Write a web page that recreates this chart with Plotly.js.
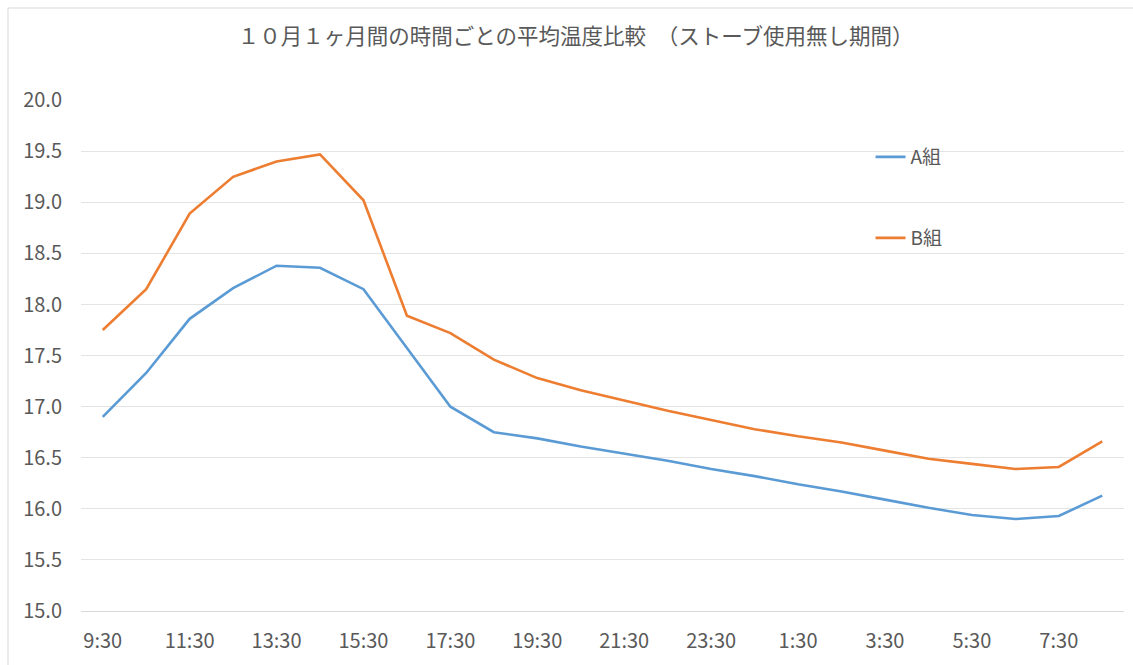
<!DOCTYPE html>
<html>
<head>
<meta charset="utf-8">
<script src="https://cdn.plot.ly/plotly-3.0.1.min.js"></script>
<style>
html,body{margin:0;padding:0;background:#fff;}
#chart{width:1133px;height:665px;}
</style>
</head>
<body>
<div id="chart"></div>
<script>
const times = ["9:30","10:30","11:30","12:30","13:30","14:30","15:30","16:30","17:30","18:30","19:30","20:30",
               "21:30","22:30","23:30","0:30","1:30","2:30","3:30","4:30","5:30","6:30","7:30","8:30"];
const tickLabels = ["9:30","11:30","13:30","15:30","17:30","19:30","21:30","23:30","1:30","3:30","5:30","7:30"];
const groupA = [16.90,17.33,17.86,18.16,18.38,18.36,18.15,17.57,17.00,16.75,16.69,16.61,
                16.54,16.47,16.39,16.32,16.24,16.17,16.09,16.01,15.94,15.90,15.93,16.13];
const groupB = [17.75,18.15,18.89,19.25,19.40,19.47,19.02,17.89,17.72,17.46,17.28,17.16,
                17.06,16.96,16.87,16.78,16.71,16.65,16.57,16.49,16.44,16.39,16.41,16.66];
const seriesNames = ["A組","B組"];
const title = "１０月１ヶ月間の時間ごとの平均温度比較　（ストーブ使用無し期間）";

const FONT = "'Noto Sans CJK JP', 'Noto Sans', sans-serif";
const GRAY = "#595959";

const traces = [
  {x: times, y: groupA, name: seriesNames[0], type: "scatter", mode: "lines",
   line: {color: "#5B9BD5", width: 2.6}, legend: "legend"},
  {x: times, y: groupB, name: seriesNames[1], type: "scatter", mode: "lines",
   line: {color: "#ED7D31", width: 2.6}, legend: "legend2"}
];

const legendCommon = {
  font: {family: FONT, size: 19, color: GRAY},
  bgcolor: "rgba(0,0,0,0)", borderwidth: 0,
  xanchor: "left", yanchor: "middle", itemwidth: 30
};

const layout = {
  width: 1133, height: 665,
  paper_bgcolor: "#fff", plot_bgcolor: "#fff",
  margin: {l: 81, r: 9, t: 100, b: 54},
  font: {family: FONT, color: GRAY},
  title: {text: title, font: {family: FONT, size: 21.5, color: GRAY},
          x: 0.508, xanchor: "center", xref: "container",
          y: 1 - 36/665, yanchor: "middle", yref: "container"},
  xaxis: {type: "category", range: [-0.5, 23.5], tickmode: "array",
          tickvals: tickLabels, ticktext: tickLabels,
          showgrid: false, showline: true, linecolor: "#d9d9d9", linewidth: 1,
          ticks: "", ticklabelstandoff: 12,
          tickfont: {family: FONT, size: 20, color: GRAY}, fixedrange: true},
  yaxis: {range: [15, 20.002], tick0: 15, dtick: 0.5, tickformat: ".1f",
          showgrid: true, gridcolor: "#e4e4e4", gridwidth: 1,
          zeroline: false, showline: false, ticks: "", ticklabelstandoff: 18,
          tickfont: {family: FONT, size: 20, color: GRAY}, fixedrange: true},
  showlegend: true,
  legend: Object.assign({x: 0.757, y: (611-157)/511}, legendCommon),
  legend2: Object.assign({x: 0.757, y: (611-238)/511}, legendCommon),
  shapes: [{type: "rect", xref: "paper", yref: "paper",
            x0: (8-81)/1043, x1: (1145-81)/1043, y0: (611-690)/511, y1: (611-8)/511,
            line: {color: "#d9d9d9", width: 1}, fillcolor: "rgba(0,0,0,0)", layer: "below"}]
};

Plotly.newPlot("chart", traces, layout, {displayModeBar: false, staticPlot: true});
</script>
</body>
</html>
